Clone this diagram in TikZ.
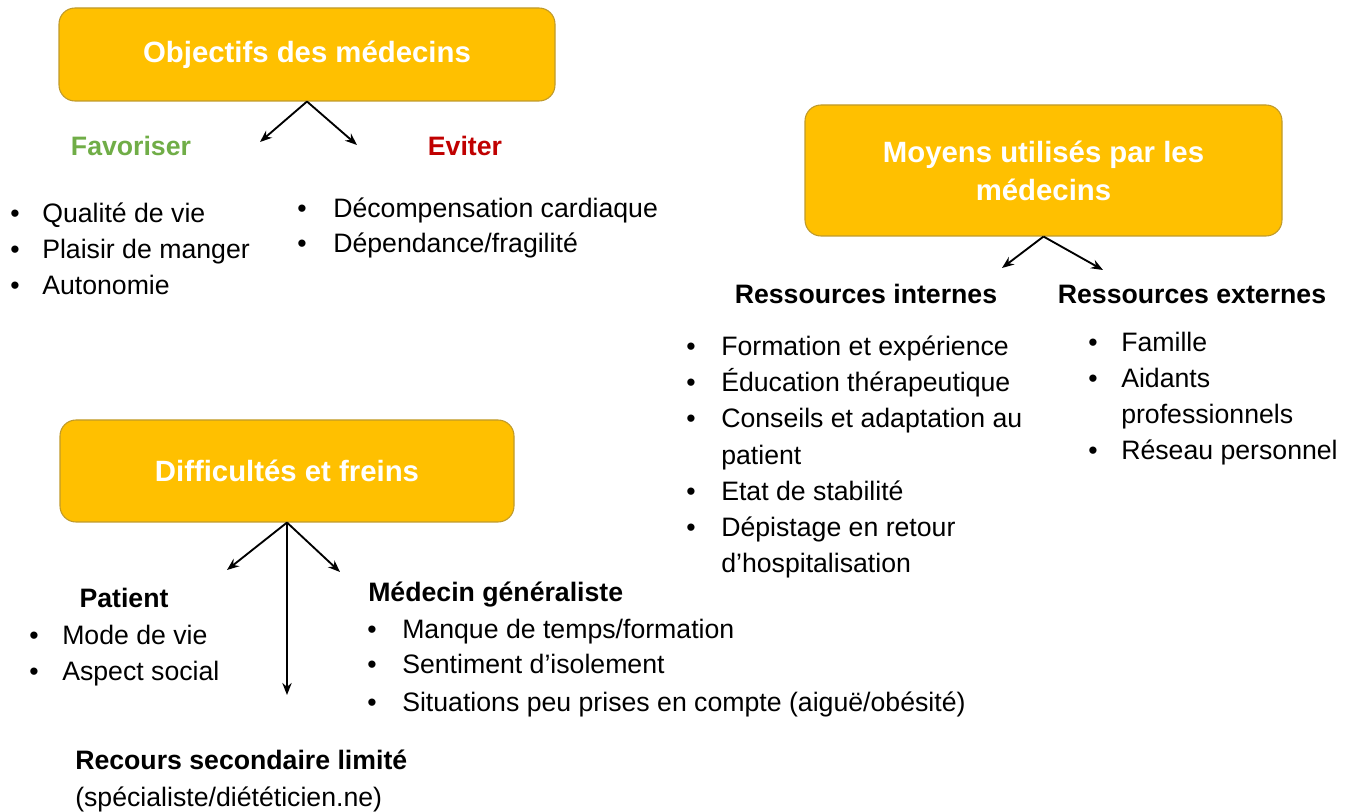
\documentclass[tikz,border=0pt]{standalone}
\usepackage{fontspec}
\setmainfont{Liberation Sans}
\usetikzlibrary{arrows.meta}
\definecolor{orangeboite}{HTML}{FFC000}
\definecolor{bordboite}{HTML}{C09A2A}
\definecolor{vertfav}{HTML}{70AD47}
\definecolor{rougeev}{HTML}{C00000}
\tikzset{
boite/.style={draw=bordboite, fill=orangeboite, rounded corners=12pt, line width=0.8pt, text=white, font=\fontsize{22}{28.5}\selectfont\bfseries, align=center, inner sep=0pt},
titre/.style={font=\fontsize{20}{27}\selectfont\bfseries, inner sep=0pt},
item/.style={font=\fontsize{20}{27}\selectfont, inner sep=0pt, anchor=mid west, yshift=-3pt},
fleche/.style={-{Stealth[length=9pt,width=7pt]}, line width=1.4pt}
}
\newcommand{\puce}[5]{%
\node[item] (#1-b) at (#2,#4) {\textbullet};
\node[item] (#1) at (#3,#4) {#5};
}
\newcommand{\suite}[4]{%
\node[item] (#1) at (#2,#3) {#4};
}

\begin{document}
\begin{tikzpicture}[x=0.75pt,y=-0.75pt]

\useasboundingbox (0,0) rectangle (1357,812);


\node[boite, minimum width=372pt, minimum height=69.75pt] (obj) at (307,54.5) {Objectifs des médecins};

\node[titre, text=vertfav] (fav) at (131,146) {Favoriser};
\node[titre, text=rougeev] (ev) at (465,146) {Eviter};

\coordinate (fav-fin) at (260,142);
\coordinate (ev-fin) at (357,145);
\draw[fleche] (obj.south) -- (fav-fin);
\draw[fleche] (obj.south) -- (ev-fin);

\puce{qual}{10}{42}{215}{Qualité de vie}
\puce{plai}{10}{42}{251}{Plaisir de manger}
\puce{auto}{10}{42}{287}{Autonomie}

\puce{deco}{297}{333}{210}{Décompensation cardiaque}
\puce{depe}{297}{333}{245}{Dépendance/fragilité}



\node[boite, minimum width=357.75pt, minimum height=98.25pt] (moy) at (1043.5,170.5) {Moyens utilisés par les\\médecins};

\node[titre] (int) at (866,294) {Ressources internes};
\node[titre] (ext) at (1192,294) {Ressources externes};

\coordinate (int-fin) at (1002,268);
\coordinate (ext-fin) at (1103,270);
\draw[fleche] (moy.south) -- (int-fin);
\draw[fleche] (moy.south) -- (ext-fin);

\puce{form}{686}{721}{348}{Formation et expérience}
\puce{educ}{686}{721}{384}{Éducation thérapeutique}
\puce{cons}{686}{721}{420}{Conseils et adaptation au}
\suite{cons2}{721}{457}{patient}
\puce{etat}{686}{721}{493}{Etat de stabilité}
\puce{depi}{686}{721}{529}{Dépistage en retour}
\suite{depi2}{721}{565}{d’hospitalisation}

\puce{fami}{1088}{1121}{344}{Famille}
\puce{aida}{1088}{1121}{380}{Aidants}
\suite{aida2}{1121}{416}{professionnels}
\puce{rese}{1088}{1121}{452}{Réseau personnel}



\node[boite, minimum width=340.5pt, minimum height=76.5pt] (dif) at (287,471) {Difficultés et freins};

\node[titre] (pat) at (124,598) {Patient};
\node[titre, anchor=mid west] (med) at (368,598) {Médecin généraliste};
\node[titre, anchor=mid west] (rec) at (75,766) {Recours secondaire limité};
\suite{rec2}{75}{799}{(spécialiste/diététicien.ne)}

\coordinate (pat-fin) at (227,570);
\coordinate (med-fin) at (340,572);
\coordinate (rec-fin) at (287,695);
\draw[fleche] (dif.south) -- (pat-fin);
\draw[fleche] (dif.south) -- (med-fin);
\draw[fleche] (dif.south) -- (rec-fin);

\puce{mode}{29}{62}{637}{Mode de vie}
\puce{aspe}{29}{62}{673}{Aspect social}

\puce{manq}{367}{402}{631}{Manque de temps/formation}
\puce{sent}{367}{402}{666}{Sentiment d’isolement}
\puce{situ}{367}{402}{704}{Situations peu prises en compte (aiguë/obésité)}

\end{tikzpicture}
\end{document}
